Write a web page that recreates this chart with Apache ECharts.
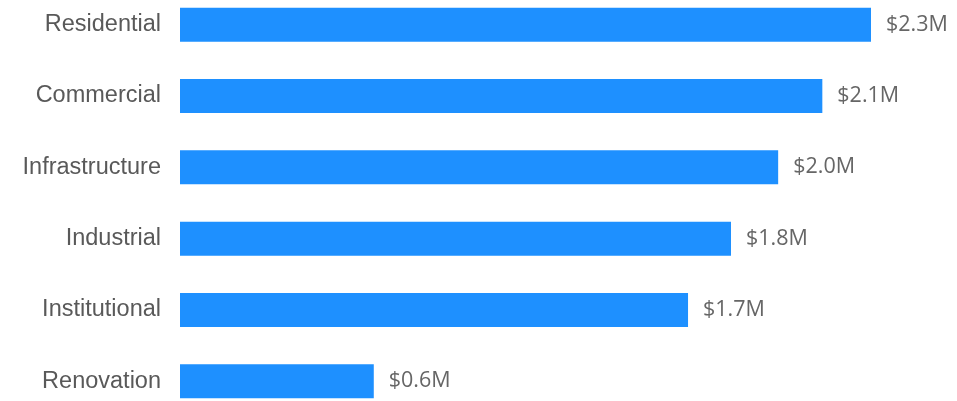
<!DOCTYPE html>
<html><head><meta charset="utf-8">
<script src="https://cdn.jsdelivr.net/npm/echarts@6/dist/echarts.min.js"></script>
<style>html,body{margin:0;padding:0;background:#fff}#c{width:957px;height:401px}</style>
</head><body><div id="c"></div>
<script>
const categories = ["Residential","Commercial","Infrastructure","Industrial","Institutional","Renovation"];
const values = [2300000, 2138000, 1991000, 1834000, 1691000, 645000];
const chart = echarts.init(document.getElementById('c'), null, {renderer:'canvas'});
chart.setOption({
  animation:false,
  grid:{left:180, right:86, top:-11, height:428, containLabel:false, outerBoundsMode:'none'},
  xAxis:{type:'value', min:0, max:2300000, show:false},
  yAxis:{type:'category', data:categories, inverse:true,
    axisLine:{show:false}, axisTick:{show:false},
    axisLabel:{margin:19, fontSize:23.5, color:'#595959', fontFamily:"'Liberation Sans', Arial, sans-serif"}},
  series:[{type:'bar', data:values, barWidth:34,
    itemStyle:{color:'#1E90FF'},
    label:{show:true, position:'right', distance:15, fontSize:21.5, color:'#666',
      fontFamily:"'Open Sans', 'Noto Sans', sans-serif",
      formatter:p=>'$'+(p.value/1e6).toFixed(1)+'M'}}]
});
</script></body></html>
